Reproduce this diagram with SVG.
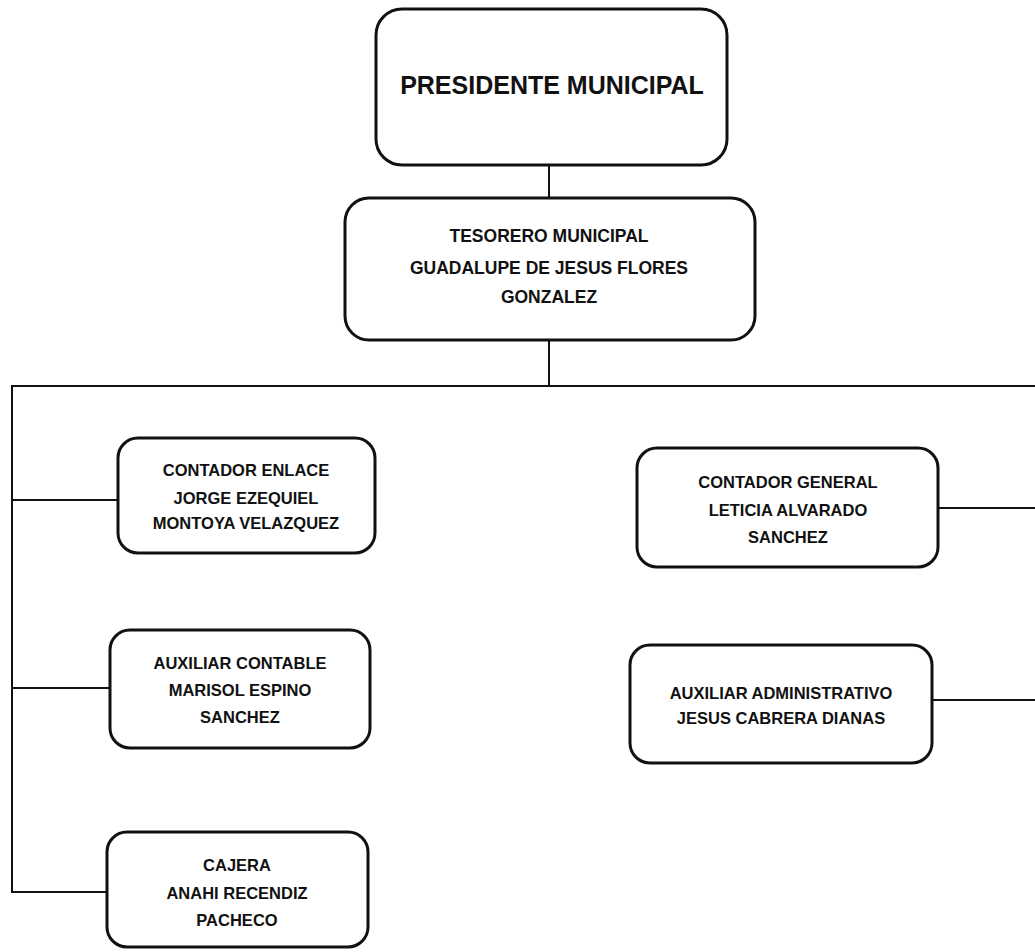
<svg xmlns="http://www.w3.org/2000/svg" width="1035" height="952" viewBox="0 0 1035 952">
<style>
.box{fill:#fff;stroke:#111;stroke-width:3}
.con{fill:none;stroke:#111;stroke-width:2}
text{font-family:"Liberation Sans",Arial,sans-serif;font-weight:bold;fill:#111;text-anchor:middle}
.t1{font-size:25px}
.t2{font-size:17.5px}
.t3{font-size:16.5px}
</style>
<rect width="1035" height="952" fill="#fff"/>
<g id="connectors">
<line class="con" x1="549" y1="165" x2="549" y2="198"/>
<line class="con" x1="549" y1="340" x2="549" y2="386"/>
<polyline class="con" points="1035,386 12,386 12,892 108,892"/>
<line class="con" x1="12" y1="500" x2="118" y2="500"/>
<line class="con" x1="12" y1="688" x2="110" y2="688"/>
<line class="con" x1="938" y1="508" x2="1035" y2="508"/>
<line class="con" x1="932" y1="700" x2="1035" y2="700"/>
</g>
<g id="presidente">
<rect class="box" x="376" y="9" width="351" height="156" rx="26"/>
<text class="t1" x="552" y="94">PRESIDENTE MUNICIPAL</text>
</g>
<g id="tesorero">
<rect class="box" x="345" y="198" width="410" height="142" rx="24"/>
<text class="t2" x="549" y="242">TESORERO MUNICIPAL</text>
<text class="t2" x="549" y="274">GUADALUPE DE JESUS FLORES</text>
<text class="t2" x="549" y="303">GONZALEZ</text>
</g>
<g id="contador-enlace">
<rect class="box" x="118" y="438" width="257" height="115" rx="20"/>
<text class="t3" x="246" y="476">CONTADOR ENLACE</text>
<text class="t3" x="246" y="504">JORGE EZEQUIEL</text>
<text class="t3" x="246" y="529">MONTOYA VELAZQUEZ</text>
</g>
<g id="auxiliar-contable">
<rect class="box" x="110" y="630" width="260" height="118" rx="20"/>
<text class="t3" x="240" y="669">AUXILIAR CONTABLE</text>
<text class="t3" x="240" y="696">MARISOL ESPINO</text>
<text class="t3" x="240" y="723">SANCHEZ</text>
</g>
<g id="cajera">
<rect class="box" x="107" y="832" width="261" height="115" rx="20"/>
<text class="t3" x="237" y="871">CAJERA</text>
<text class="t3" x="237" y="899">ANAHI RECENDIZ</text>
<text class="t3" x="237" y="926">PACHECO</text>
</g>
<g id="contador-general">
<rect class="box" x="637" y="448" width="301" height="119" rx="20"/>
<text class="t3" x="788" y="488">CONTADOR GENERAL</text>
<text class="t3" x="788" y="516">LETICIA ALVARADO</text>
<text class="t3" x="788" y="543">SANCHEZ</text>
</g>
<g id="auxiliar-administrativo">
<rect class="box" x="630" y="645" width="302" height="118" rx="20"/>
<text class="t3" x="781" y="699">AUXILIAR ADMINISTRATIVO</text>
<text class="t3" x="781" y="724">JESUS CABRERA DIANAS</text>
</g>
</svg>
